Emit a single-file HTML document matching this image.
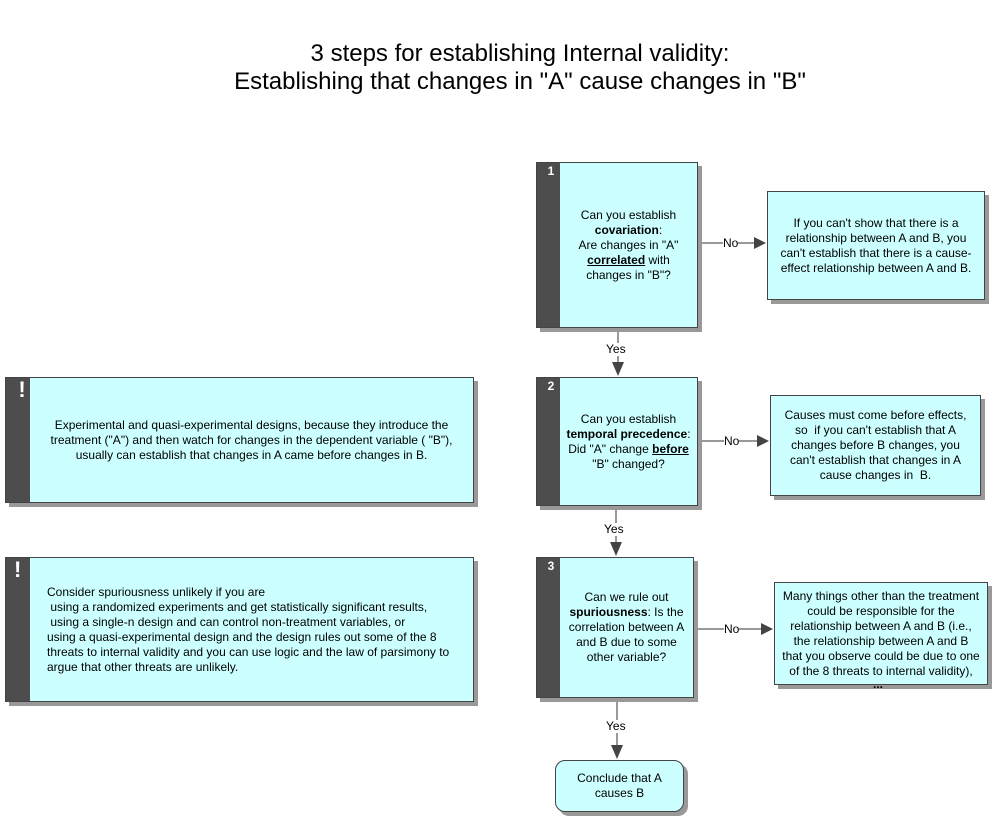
<!DOCTYPE html>
<html><head><style>
body{margin:0;width:995px;height:820px;background:#fff;position:relative;font-family:"Liberation Sans",Arial,sans-serif;color:#000;overflow:hidden}
.b{position:absolute;background:#ccffff;border:1px solid #444;box-shadow:4px 4px 0 #999;box-sizing:border-box;display:flex;align-items:center;justify-content:center;text-align:center;font-size:12px;line-height:15px}
.bar{position:absolute;left:0;top:0;bottom:0;background:#4d4d4d;color:#fff;font-weight:bold;font-size:12px;padding:1px 0 0 5px;box-sizing:border-box}
.t{position:absolute;font-size:12px;background:#fff;line-height:13px}
</style></head><body>
<div style="position:absolute;left:0;width:1040px;top:40px;text-align:center;font-size:24px;line-height:28px">3 steps for establishing Internal validity:<br>Establishing that changes in "A" cause changes in "B"</div>

<svg width="995" height="820" style="position:absolute;left:0;top:0">
<g stroke="#333" stroke-width="1" fill="#444">
<line x1="618" y1="327" x2="618" y2="364"/><polygon points="612,362 624,362 618,376" stroke="none"/>
<line x1="616" y1="505" x2="616" y2="544"/><polygon points="610,542 622,542 616,556" stroke="none"/>
<line x1="617" y1="697" x2="617" y2="747"/><polygon points="611,745 623,745 617,759" stroke="none"/>
<line x1="697" y1="243" x2="756" y2="243"/><polygon points="754,237 754,249 766,243" stroke="none"/>
<line x1="697" y1="441" x2="759" y2="441"/><polygon points="757,435 757,447 769,441" stroke="none"/>
<line x1="693" y1="629" x2="763" y2="629"/><polygon points="761,623 761,635 773,629" stroke="none"/>
</g></svg>
<div class="t" style="left:606px;top:343px">Yes</div>
<div class="t" style="left:604px;top:523px">Yes</div>
<div class="t" style="left:606px;top:720px">Yes</div>
<div class="t" style="left:723px;top:237px">No</div>
<div class="t" style="left:724px;top:435px">No</div>
<div class="t" style="left:724px;top:623px">No</div>

<div class="b" style="left:536px;top:162px;width:162px;height:166px;padding-left:23px"><div class="bar" style="width:23px">1</div><div>Can you establish<br><b>covariation</b>:<br>Are changes in "A"<br><b><u>correlated</u></b> with<br>changes in "B"?</div></div>
<div class="b" style="left:767px;top:191px;width:218px;height:109px">If you can't show that there is a<br>relationship between A and B, you<br>can't establish that there is a cause-<br>effect relationship between A and B.</div>

<div class="b" style="left:536px;top:377px;width:162px;height:129px;padding-left:23px"><div class="bar" style="width:23px">2</div><div>Can you establish<br><b>temporal precedence</b>:<br>Did "A" change <b><u>before </u></b><br>"B" changed?</div></div>
<div class="b" style="left:770px;top:395px;width:211px;height:101px">Causes must come before effects,<br>so &nbsp;if you can't establish that A<br>changes before B changes, you<br>can't establish that changes in A<br>cause changes in &nbsp;B.</div>

<div class="b" style="left:536px;top:557px;width:158px;height:141px;padding-left:23px"><div class="bar" style="width:23px">3</div><div>Can we rule out<br><b>spuriousness</b>: Is the<br>correlation between A<br>and B due to some<br>other variable?</div></div>
<div class="b" style="left:774px;top:582px;width:214px;height:103px">Many things other than the treatment<br>could be responsible for the<br>relationship between A and B (i.e.,<br>the relationship between A and B<br>that you observe could be due to one<br>of the 8 threats to internal validity),</div>
<div class="t" style="left:873px;top:678px;font-weight:bold;background:none">...</div>

<div class="b" style="left:555px;top:760px;width:129px;height:52px;border-radius:10px">Conclude that A<br>causes B</div>

<div class="b" style="left:5px;top:377px;width:469px;height:126px;padding-left:24px"><div class="bar" style="width:24px;font-size:22px;padding:4px 0 0 8px">!</div><div>Experimental and quasi-experimental designs, because they introduce the<br>treatment ("A") and then watch for changes in the dependent variable ( "B"),<br>usually can establish that changes in A came before changes in B.</div></div>

<div class="b" style="left:5px;top:557px;width:469px;height:145px;padding-left:24px;justify-content:flex-start;text-align:left"><div class="bar" style="width:24px;font-size:22px;padding:4px 0 0 8px">!</div><div style="padding-left:17px">Consider spuriousness unlikely if you are<br>&nbsp;using a randomized experiments and get statistically significant results,<br>&nbsp;using a single-n design and can control non-treatment variables, or<br>using a quasi-experimental design and the design rules out some of the 8<br>threats to internal validity and you can use logic and the law of parsimony to<br>argue that other threats are unlikely.</div></div>
</body></html>
